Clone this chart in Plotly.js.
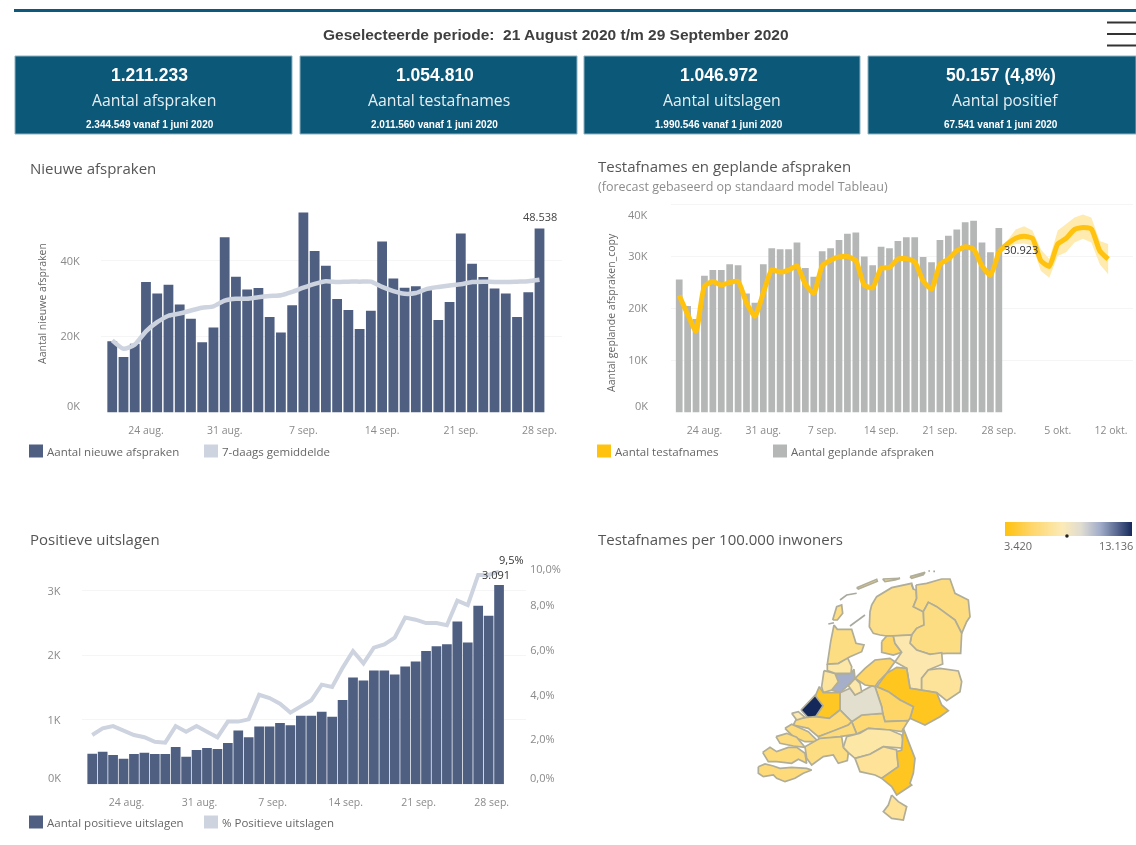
<!DOCTYPE html>
<html>
<head>
<meta charset="utf-8">
<script src="https://cdn.plot.ly/plotly-3.0.1.min.js"></script>
<style>html,body{margin:0;padding:0;background:#fff}#chart{width:1136px;height:845px;filter:blur(0.5px)}</style>
</head>
<body>
<div id="chart"></div>
<script>
// ---------- data ----------
const periodTitle = 'Geselecteerde periode:  21 August 2020 t/m 29 September 2020';
const kpiValues = ['1.211.233', '1.054.810', '1.046.972', '50.157 (4,8%)'];
const kpiLabels = ['Aantal afspraken', 'Aantal testafnames', 'Aantal uitslagen', 'Aantal positief'];
const kpiNotes = ['2.344.549 vanaf 1 juni 2020', '2.011.560 vanaf 1 juni 2020', '1.990.546 vanaf 1 juni 2020', '67.541 vanaf 1 juni 2020'];

const newAppointments = [18800,14600,18100,34400,31400,33700,28500,24700,18500,22400,46200,35800,32400,32800,25200,21100,28300,52700,42600,38700,29900,27000,22000,26800,45100,35300,32900,33300,32200,24400,29100,47200,39200,35700,32700,31400,25200,31700,48538];
const newAppointmentsAvg = [19000,16800,17900,21400,23800,25500,26100,26900,27600,28000,29500,30000,30000,30400,30700,30900,31800,32900,33900,34600,34400,34500,34500,34500,33100,32000,31300,31500,32600,33100,33500,33800,34400,34500,34400,34400,34500,34600,35000];

const plannedAppointments = [25600,20500,18000,26300,27400,27400,28500,28300,22900,21100,28500,31600,31400,31400,32700,27800,26100,31000,31600,33200,34400,34600,30000,28300,31900,31600,33000,33700,33700,29900,28900,33200,34000,35200,36600,36900,32700,30800,35500];
const testsTaken = [22500,18900,15600,24300,25200,24500,25000,25200,21100,18500,23000,27400,27000,27400,28200,24700,22900,28200,29300,29900,30000,29200,24500,24000,27700,27900,29500,29600,29000,25300,23700,28500,29500,31100,31900,31400,28200,26400,30923];
const forecastTests = [30923,32400,33500,33900,33500,29200,28100,32400,33500,35200,35600,35300,31100,29500];
const forecastUpper = [30923,33000,35200,35800,35000,31400,29500,35000,36300,37500,38100,37500,33000,32400];
const forecastLower = [30923,31700,32400,32500,32100,27200,25900,30100,30800,32700,33400,32700,28500,26600];

const positiveCounts = [475,506,454,398,470,490,470,470,578,429,532,563,547,640,836,728,898,898,950,914,1063,1063,1125,1048,1306,1657,1611,1766,1766,1704,1828,1905,2065,2142,2173,2524,2199,2767,2612,3091];
const positivePct = [2.2,2.5,2.6,2.4,2.2,2.1,1.9,1.86,2.6,2.35,2.6,2.35,2.1,2.8,2.8,2.9,4.0,3.85,3.6,3.2,3.45,3.75,4.45,4.35,5.2,5.95,5.4,6.1,6.25,6.55,7.45,7.35,7.2,7.2,7.1,8.2,8.0,9.35,9.35,9.5];

const dayTicks = ['24 aug.','31 aug.','7 sep.','14 sep.','21 sep.','28 sep.'];
const dayTickDates = ['2020-08-24','2020-08-31','2020-09-07','2020-09-14','2020-09-21','2020-09-28'];
const forecastTicks = ['24 aug.','31 aug.','7 sep.','14 sep.','21 sep.','28 sep.','5 okt.','12 okt.'];
const forecastTickDates = ['2020-08-24','2020-08-31','2020-09-07','2020-09-14','2020-09-21','2020-09-28','2020-10-05','2020-10-11 08:00'];
const positiveTickDates = ['2020-08-23 07:00','2020-08-30 07:00','2020-09-06 07:00','2020-09-13 07:00','2020-09-20 07:00','2020-09-27 07:00'];

const mapLegendMin = 3420, mapLegendMax = 13136, mapLegendMarker = 8160;
const mapLegendStops = [3420, 5370, 7790, 9250, 10700, 13136];
const mapColorStops = [[0,'#FFC20E'],[0.2,'#FED566'],[0.45,'#FCEBB8'],[0.6,'#DEDCD2'],[0.75,'#A0ABC9'],[1,'#14285A']];

// map regions: name, value (tests per 100.000), outline in map units
const regionNames = ['Friesland','Groningen','Drenthe','Noordoostpolder','IJsselland','Twente','Flevoland','Noord- en Oost-Gelderland','Gelderland-Midden','Gelderland-Zuid','Utrecht','Gooi en Vechtstreek','Amsterdam-Amstelland','Kennemerland','Zaanstreek-Waterland','Noord-Holland-Noord','Texel','Hollands-Midden','Haaglanden','Rotterdam-Rijnmond','Zuid-Holland-Zuid','Voorne','Goeree','Schouwen','Beveland','Zeeuws-Vlaanderen','West-Brabant','Hart voor Brabant','Brabant-Zuidoost','Limburg-Noord','Zuid-Limburg','Terschelling','Ameland','Schiermonnikoog'];
const regionValues = [6400,6100,6200,5300,7500,6900,5400,3800,5400,5700,9000,7400,10600,7000,7300,6200,6300,3900,13136,5900,6000,7500,6000,6100,6000,5900,6200,7300,6800,3850,6800,6300,6300,6300];
const regionOutlines = [
 [[395,285],[410,260],[455,233],[515,220],[520,237],[528,240],[530,265],[520,290],[550,305],[552,345],[530,355],[515,375],[475,377],[460,378],[440,378],[420,375],[400,370],[388,350],[390,305]],
 [[528,225],[560,220],[605,207],[630,207],[645,250],[685,270],[690,320],[680,335],[665,370],[645,330],[590,290],[565,277],[550,305],[520,290],[530,265],[528,240]],
 [[550,305],[565,277],[590,290],[645,330],[665,370],[662,430],[620,430],[570,433],[530,420],[510,400],[515,375],[530,355],[552,345]],
 [[425,395],[440,378],[460,378],[465,400],[485,427],[460,435],[425,427]],
 [[460,378],[515,375],[510,400],[530,420],[570,433],[605,428],[608,462],[565,480],[545,505],[545,540],[510,535],[500,475],[465,455],[485,427],[465,400]],
 [[565,480],[600,475],[655,483],[665,515],[660,545],[620,572],[590,548],[545,540],[545,505]],
 [[345,505],[375,475],[405,450],[450,445],[465,455],[440,490],[415,515],[405,530],[375,525]],
 [[410,530],[440,490],[470,472],[500,475],[510,535],[545,540],[590,548],[605,585],[625,602],[600,620],[555,645],[510,625],[520,590],[480,570],[445,545]],
 [[405,530],[410,530],[445,545],[480,570],[520,590],[510,625],[505,632],[435,635],[428,610],[425,590],[415,560]],
 [[335,635],[365,615],[428,610],[435,635],[505,632],[485,665],[450,660],[385,655],[350,672]],
 [[300,548],[330,535],[345,555],[365,545],[395,528],[405,530],[415,560],[425,590],[428,610],[365,615],[335,635],[300,600]],
 [[325,527],[345,505],[360,520],[365,545],[345,555],[330,535]],
 [[285,492],[333,490],[342,478],[345,505],[320,530],[300,548],[275,540],[295,515]],
 [[252,482],[285,490],[295,515],[275,540],[250,548],[245,530]],
 [[262,462],[295,460],[322,442],[335,470],[333,490],[285,490],[262,482]],
 [[282,345],[292,358],[335,358],[342,385],[348,400],[372,405],[365,425],[330,440],[295,460],[262,462],[272,395]],
 [[278,330],[290,290],[305,285],[308,310],[292,330]],
 [[225,560],[238,530],[250,548],[300,548],[300,600],[268,625],[225,620],[245,585]],
 [[183,600],[225,556],[249,587],[223,626],[203,622]],
 [[170,625],[225,620],[268,625],[300,600],[335,635],[325,645],[290,660],[235,680],[205,655],[160,645]],
 [[235,680],[290,660],[325,645],[335,635],[350,672],[300,680],[238,688]],
 [[155,610],[175,605],[195,622],[170,630]],
 [[135,655],[155,643],[205,665],[235,695],[195,695],[160,680]],
 [[108,680],[140,670],[170,682],[195,712],[160,708],[120,700]],
 [[68,727],[90,712],[110,725],[145,712],[170,712],[195,730],[200,760],[175,748],[155,760],[110,755],[85,755]],
 [[55,770],[75,762],[100,768],[120,775],[155,772],[200,775],[215,780],[190,790],[165,805],[135,815],[110,805],[100,795],[70,800],[55,790]],
 [[195,710],[240,685],[305,680],[310,712],[325,728],[322,752],[295,760],[280,735],[250,740],[215,765],[200,745]],
 [[310,712],[320,680],[360,670],[385,655],[450,660],[485,675],[495,715],[430,710],[390,733],[345,745],[325,728]],
 [[345,745],[390,733],[430,710],[470,720],[475,770],[425,805],[405,795],[360,785]],
 [[490,655],[510,705],[525,745],[520,790],[510,820],[515,825],[470,855],[455,830],[425,805],[475,770],[470,725],[485,720]],
 [[455,855],[475,875],[500,890],[490,930],[455,925],[430,905],[445,885]],
 [[350,233],[380,220],[410,208],[412,214],[385,225],[355,237]],
 [[428,207],[480,205],[465,210],[435,215]],
 [[510,200],[555,187],[550,194],[515,205]]
];
const dikeLines = [[[330,348],[375,315]],[[265,342],[282,338]],[[300,270],[320,255],[350,250]],[[515,225],[520,237]],[[565,183],[570,183]],[[580,184],[585,184]]];

// ---------- helpers ----------
const W = 1136, H = 845;
const px = x => x / W, py = y => 1 - y / H;
const startDates = (first, n) => Array.from({length:n}, (_,i) => {
  const d = new Date(Date.UTC(2020, 7, first + i));
  return d.toISOString().slice(0,10);
});
const DAY = 86400000;
const FONT = '"Open Sans", Lato, sans-serif';
const BOLD = '"Liberation Sans", Arial, sans-serif';
const NAVYBAR = '#4E5F82', AVG = '#CDD3DF', YEL = '#FFC20E', GREYBAR = '#B5B7B7';
const TICK = '#8a8a8a', GRID = '#f5f5f5';

function colorFor(v){
  const t = (v - mapLegendMin) / (mapLegendMax - mapLegendMin);
  for (let i = 1; i < mapColorStops.length; i++){
    if (t <= mapColorStops[i][0]){
      const [a,ca] = mapColorStops[i-1], [b,cb] = mapColorStops[i];
      const f = (t-a)/(b-a);
      const rgb = s => [1,3,5].map(k => parseInt(s.slice(k,k+2),16));
      const A = rgb(ca), B = rgb(cb);
      return 'rgb(' + A.map((c,k) => Math.round(c+(B[k]-c)*f)).join(',') + ')';
    }
  }
  return mapColorStops[mapColorStops.length-1][1];
}

const annotations = [], shapes = [];
function label(x, y, text, opts){
  opts = opts || {};
  const anchor = opts.anchor || 'left';
  const nudge = anchor === 'left' ? -2 : anchor === 'right' ? 2 : 0;
  annotations.push({xref:'paper', yref:'paper', x:px(x + nudge), y:py(y), text:text, showarrow:false,
    xanchor:anchor, yanchor:'middle', textangle:opts.angle||0,
    font:{family:opts.family||FONT, size:opts.size||12, color:opts.color||'#555', weight:opts.weight||'normal'}});
}
function rect(x0,y0,x1,y1,color,line){
  shapes.push({type:'rect', xref:'paper', yref:'paper', x0:px(x0), x1:px(x1), y0:py(y0), y1:py(y1),
    fillcolor:color, line:line||{width:0}, layer:'above'});
}

// header
rect(14,9,1136,12,'#0B5A7D');
label(556,35,periodTitle,{anchor:'center',family:BOLD,size:15.5,color:'#3f3f3f',weight:'bold'});
[22.5,34,45.5].forEach(y => rect(1107,y-1,1136,y+1,'#333'));

// KPI cards
const cardEdges = [[15,292],[300,577],[584,860],[868,1136]];
const cardTextShift = [-4,-4,-3,-1];
cardEdges.forEach((e,i) => {
  rect(e[0],56,e[1],134,'#0C5878',{width:1,color:'#8DB2C2'});
  const c = (e[0]+e[1])/2;
  label(c+cardTextShift[i],75,kpiValues[i],{anchor:'center',family:BOLD,size:17.5,color:'#fff',weight:'bold'});
  label(c+(i===3?3:0),100,kpiLabels[i],{anchor:'center',size:15.8,color:'#E6EEF2'});
  label(c+cardTextShift[i],125,kpiNotes[i],{anchor:'center',family:BOLD,size:10,color:'#fff',weight:'bold'});
});

// section titles
label(30,168,'Nieuwe afspraken',{size:15,color:'#555'});
label(598,166,'Testafnames en geplande afspraken',{size:15,color:'#555'});
label(598,187,'(forecast gebaseerd op standaard model Tableau)',{size:12.5,color:'#8c8c8c'});
label(30,539,'Positieve uitslagen',{size:15,color:'#555'});
label(598,539,'Testafnames per 100.000 inwoners',{size:15,color:'#555'});

// legends
function legendItem(x, y, color, text){
  rect(x,y-6.5,x+14,y+6.5,color);
  label(x+18,y,text,{size:11.5,color:'#666'});
}
legendItem(29,451,NAVYBAR,'Aantal nieuwe afspraken');
legendItem(204,451,AVG,'7-daags gemiddelde');
legendItem(597,451,YEL,'Aantal testafnames');
legendItem(773,451,GREYBAR,'Aantal geplande afspraken');
legendItem(29,822,NAVYBAR,'Aantal positieve uitslagen');
legendItem(204,822,AVG,'% Positieve uitslagen');

// axis titles
label(42,304,'Aantal nieuwe afspraken',{anchor:'center',angle:-90,size:10.5,color:'#666'});
label(611,313,'Aantal geplande afspraken_copy',{anchor:'center',angle:-90,size:10.5,color:'#666'});

// axis end labels sit inside the pane in the original
label(80,405,'0K',{anchor:'right',size:11,color:TICK});
label(648,214,'40K',{anchor:'right',size:11,color:TICK});
label(648,405,'0K',{anchor:'right',size:11,color:TICK});
label(61,777,'0K',{anchor:'right',size:11,color:TICK});
label(530,568,'10,0%',{size:11,color:TICK});
label(530,777,'0,0%',{size:11,color:TICK});

// map legend texts
label(1004,545,'3.420',{size:11,color:'#666'});
label(1133,545,'13.136',{anchor:'right',size:11,color:'#666'});

// ---------- traces ----------
const d39 = startDates(21,39), d40 = startDates(20,40);
const forecastDates = startDates(21+38,14);
const traces = [];
traces.push({type:'bar',x:d39,y:newAppointments,width:DAY*0.87,marker:{color:NAVYBAR},xaxis:'x',yaxis:'y',name:'Aantal nieuwe afspraken'});
traces.push({type:'scatter',mode:'lines',x:d39,y:newAppointmentsAvg,line:{color:AVG,width:4.5,shape:'spline',smoothing:0.6},xaxis:'x',yaxis:'y',name:'7-daags gemiddelde'});

traces.push({type:'bar',x:d39,y:plannedAppointments,width:DAY*0.8,marker:{color:GREYBAR},xaxis:'x2',yaxis:'y2',name:'Aantal geplande afspraken'});
traces.push({type:'scatter',mode:'lines',x:forecastDates.concat(forecastDates.slice().reverse()),
  y:forecastUpper.concat(forecastLower.slice().reverse()),fill:'toself',fillcolor:'#FFEBB0',line:{width:0},xaxis:'x2',yaxis:'y2',name:'Forecast'});
traces.push({type:'scatter',mode:'lines',x:d39,y:testsTaken,line:{color:YEL,width:5,shape:'spline',smoothing:0.5},xaxis:'x2',yaxis:'y2',name:'Aantal testafnames'});
traces.push({type:'scatter',mode:'lines',x:forecastDates,y:forecastTests,line:{color:YEL,width:5,shape:'spline',smoothing:0.5},xaxis:'x2',yaxis:'y2',name:'Forecast testafnames'});

traces.push({type:'bar',x:d40,y:positiveCounts,width:DAY*0.93,marker:{color:NAVYBAR},xaxis:'x3',yaxis:'y3',name:'Aantal positieve uitslagen'});
traces.push({type:'scatter',mode:'lines',x:d40,y:positivePct,line:{color:AVG,width:4},xaxis:'x3',yaxis:'y4',name:'% Positieve uitslagen'});

regionOutlines.forEach((o,i) => {
  traces.push({type:'scatter',mode:'lines',x:o.concat([o[0]]).map(p=>p[0]),y:o.concat([o[0]]).map(p=>p[1]),
    fill:'toself',fillcolor:colorFor(regionValues[i]),line:{color:'#B0AD98',width:1.7},xaxis:'x5',yaxis:'y5',name:regionNames[i]});
});
dikeLines.forEach(o => traces.push({type:'scatter',mode:'lines',x:o.map(p=>p[0]),y:o.map(p=>p[1]),line:{color:'#A9A9A0',width:1.6},xaxis:'x5',yaxis:'y5'}));

traces.push({type:'heatmap',x:mapLegendStops,y:[0,1],z:[mapLegendStops,mapLegendStops],zmin:mapLegendMin,zmax:mapLegendMax,
  zsmooth:'best',colorscale:mapColorStops,showscale:false,xaxis:'x6',yaxis:'y6'});
traces.push({type:'scatter',mode:'markers',x:[mapLegendMarker],y:[0],marker:{color:'#222',size:3.5,symbol:'circle'},cliponaxis:false,xaxis:'x6',yaxis:'y6'});

// value labels through the axes
annotations.push({xref:'x',yref:'y',x:'2020-09-28',y:48538,text:'48.538',showarrow:false,yanchor:'bottom',yshift:2,font:{family:FONT,size:11,color:'#444'}});
annotations.push({xref:'x2',yref:'y2',x:'2020-09-28',y:30923,text:'30.923',showarrow:false,xanchor:'left',xshift:3,yshift:2,font:{family:FONT,size:11,color:'#333'}});
annotations.push({xref:'x3',yref:'y4',x:'2020-09-28',y:9.5,text:'9,5%',showarrow:false,xanchor:'center',yanchor:'bottom',xshift:12,yshift:3,font:{family:FONT,size:11,color:'#333'}});
annotations.push({xref:'x3',yref:'y3',x:'2020-09-28',y:3091,text:'3.091',showarrow:false,yanchor:'bottom',xshift:-3,yshift:1,font:{family:FONT,size:11,color:'#333'}});

// ---------- axes ----------
const dom = (a,b,s) => [a/s, b/s];
const domY = (top,bottom) => [py(bottom), py(top)];
function xAxis(a,b,range,vals,text,anchor){
  return {type:'date',domain:dom(a,b,W),range:range,tickmode:'array',tickvals:vals,ticktext:text,showgrid:false,zeroline:false,
    showline:false,ticks:'outside',ticklen:8,tickcolor:'rgba(0,0,0,0)',tickfont:{family:FONT,size:10.5,color:TICK},anchor:anchor,fixedrange:true};
}
function yAxis(top,bottom,max,vals,text,anchor,standoff){
  return {domain:domY(top,bottom),range:[0,max],tickmode:'array',tickvals:vals,ticktext:text,showgrid:true,gridcolor:GRID,gridwidth:1,zeroline:false,
    showline:false,ticks:'outside',ticklen:standoff,tickcolor:'rgba(0,0,0,0)',tickfont:{family:FONT,size:11,color:TICK},anchor:anchor,fixedrange:true};
}
const hidden = {visible:false,fixedrange:true};

const layout = {
  width:W,height:H,margin:{l:0,r:0,t:0,b:0},paper_bgcolor:'#fff',plot_bgcolor:'rgba(0,0,0,0)',showlegend:false,hovermode:false,
  barmode:'overlay',annotations:annotations,shapes:shapes,
  xaxis:xAxis(101,562,['2020-08-20','2020-09-30'],dayTickDates,dayTicks,'y'),
  yaxis:yAxis(205,412.5,54700,[0,20000,40000],['','20K','40K'],'x',18),
  xaxis2:xAxis(670.8,1133.4,['2020-08-20','2020-10-14'],forecastTickDates,forecastTicks,'y2'),
  yaxis2:yAxis(200,412.5,40870,[0,10000,20000,30000,40000],['','10K','20K','30K',''],'x2',20),
  xaxis3:xAxis(81.8,526,['2020-08-19','2020-09-30 14:00'],positiveTickDates,dayTicks,'y3'),
  yaxis3:yAxis(555,784.3,3555,[0,1000,2000,3000],['','1K','2K','3K'],'x3',18),
  yaxis4:{domain:domY(555,784.3),range:[0,10.24],overlaying:'y3',side:'right',anchor:'x3',tickmode:'array',tickvals:[0,2,4,6,8,10],
    ticktext:['','2,0%','4,0%','6,0%','8,0%',''],showgrid:false,zeroline:false,showline:false,ticks:'outside',ticklen:1,tickcolor:'rgba(0,0,0,0)',
    tickfont:{family:FONT,size:11,color:TICK},fixedrange:true},
  xaxis5:Object.assign({domain:dom(740,1136,W),range:[0,1188],anchor:'y5'},hidden),
  yaxis5:Object.assign({domain:domY(510,830),range:[960,0],anchor:'x5'},hidden),
  xaxis6:Object.assign({domain:dom(1005,1132,W),range:[mapLegendMin,mapLegendMax],anchor:'y6'},hidden),
  yaxis6:Object.assign({domain:domY(522,536),range:[0,1],anchor:'x6'},hidden)
};

Plotly.newPlot('chart',traces,layout,{displayModeBar:false,staticPlot:true,responsive:false});
</script>
</body>
</html>
